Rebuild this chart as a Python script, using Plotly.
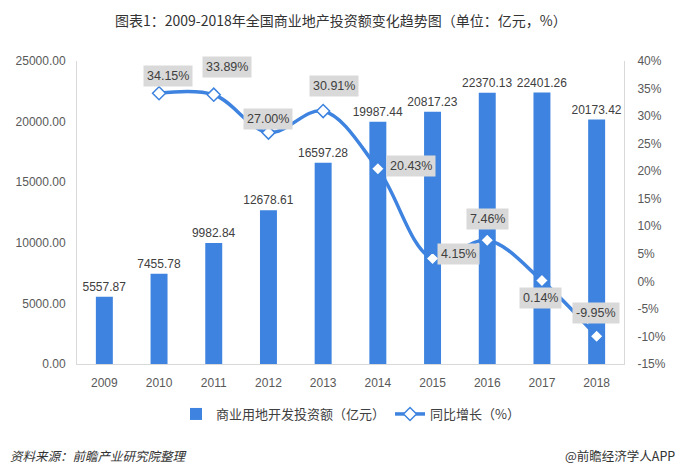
import plotly.graph_objects as go

years = [2009, 2010, 2011, 2012, 2013, 2014, 2015, 2016, 2017, 2018]
investment = [5557.87, 7455.78, 9982.84, 12678.61, 16597.28, 19987.44, 20817.23, 22370.13, 22401.26, 20173.42]
growth_years = [2010, 2011, 2012, 2013, 2014, 2015, 2016, 2017, 2018]
growth = [34.15, 33.89, 27.00, 30.91, 20.43, 4.15, 7.46, 0.14, -9.95]
# label offsets (pixels) for growth labels
label_dx = [9, 13, 0, 11, 33, 26, 0, -1, -1]
label_dy = [-17, -28, -14, -25, -3, -5, -21, 17, -23]

left_ticks = [0, 5000, 10000, 15000, 20000, 25000]
right_ticks = [-15, -10, -5, 0, 5, 10, 15, 20, 25, 30, 35, 40]
right_tick_text = [f"{v}%" for v in right_ticks]

BLUE = "#3d83df"
CJK = "Noto Sans CJK SC"
NUM = "Liberation Sans, Arial, sans-serif"
TXT = "#404040"

W, H = 680, 475
L, R, T, B = 77, 56, 61, 111
pw, ph = W - L - R, H - T - B


def px(xp):
    return (xp - L) / pw


def py(yp):
    return (H - B - yp) / ph


fig = go.Figure()
fig.add_trace(go.Bar(
    x=years, y=investment, name="商业用地开发投资额（亿元）",
    marker=dict(color=BLUE, line=dict(width=0)),
    width=0.31,
    texttemplate="%{y:.2f}", textposition="outside", constraintext="none",
    textfont=dict(family=NUM, size=12, color=TXT),
    cliponaxis=False,
))
fig.add_trace(go.Scatter(
    x=growth_years, y=growth, name="同比增长（%）", yaxis="y2",
    mode="lines+markers",
    line=dict(color=BLUE, width=3.5, shape="spline", smoothing=1.0),
    marker=dict(symbol="diamond", size=10, color="white", line=dict(color=BLUE, width=1.5)),
    cliponaxis=False,
))

anns = []
for x, v, dx, dy in zip(growth_years, growth, label_dx, label_dy):
    anns.append(dict(
        x=x, y=v, xref="x", yref="y2", text=f"{v:.2f}%",
        showarrow=False, xshift=dx, yshift=-dy,
        bgcolor="#d9d9d9", borderpad=3,
        font=dict(family=NUM, size=12.5, color=TXT),
    ))

anns.append(dict(
    x=px(341), y=py(20), xref="paper", yref="paper", xanchor="center", yanchor="middle",
    text="图表1：2009-2018年全国商业地产投资额变化趋势图（单位：亿元，%）",
    showarrow=False, font=dict(family=CJK, size=14, color="#333333"),
))
anns.append(dict(
    x=px(8), y=py(455), xref="paper", yref="paper", text="<i>资料来源：前瞻产业研究院整理</i>",
    showarrow=False, xanchor="left", yanchor="middle",
    font=dict(family=CJK, size=12.5, color="#333333"),
))
anns.append(dict(
    x=px(677), y=py(455), xref="paper", yref="paper", text="@前瞻经济学人APP",
    showarrow=False, xanchor="right", yanchor="middle",
    font=dict(family=CJK, size=12.5, color="#333333"),
))

fig.update_layout(
    width=W, height=H,
    margin=dict(l=L, r=R, t=T, b=B, pad=0),
    paper_bgcolor="white", plot_bgcolor="white",
    annotations=anns,
    showlegend=True,
    legend=dict(orientation="h", x=0.5, xanchor="center", y=py(399), yanchor="top",
                font=dict(family=CJK, size=13, color=TXT),
                traceorder="normal"),
    xaxis=dict(type="linear", range=[2008.5, 2018.5], tickmode="array", tickvals=years,
               ticktext=[str(y) for y in years],
               showline=True, linecolor="#d9d9d9", linewidth=1, showgrid=False, zeroline=False,
               ticks="outside", ticklen=8, tickcolor="rgba(0,0,0,0)",
               tickfont=dict(family=NUM, size=12, color="#595959")),
    yaxis=dict(range=[0, 25000], tickmode="array", tickvals=left_ticks, tickformat=".2f",
               showgrid=False, zeroline=False, showline=True, linecolor="#d9d9d9",
               ticks="outside", ticklen=8, tickcolor="rgba(0,0,0,0)",
               tickfont=dict(family=NUM, size=12, color="#595959")),
    yaxis2=dict(range=[-15, 40], tickmode="array", tickvals=right_ticks, ticktext=right_tick_text,
                overlaying="y", side="right", showgrid=False, zeroline=False,
                showline=True, linecolor="#d9d9d9",
                ticks="outside", ticklen=10, tickcolor="rgba(0,0,0,0)",
                tickfont=dict(family=NUM, size=12, color="#595959")),
)

fig.write_html("out.html", post_script="document.body.style.margin='0';",
               config={"displayModeBar": False})
